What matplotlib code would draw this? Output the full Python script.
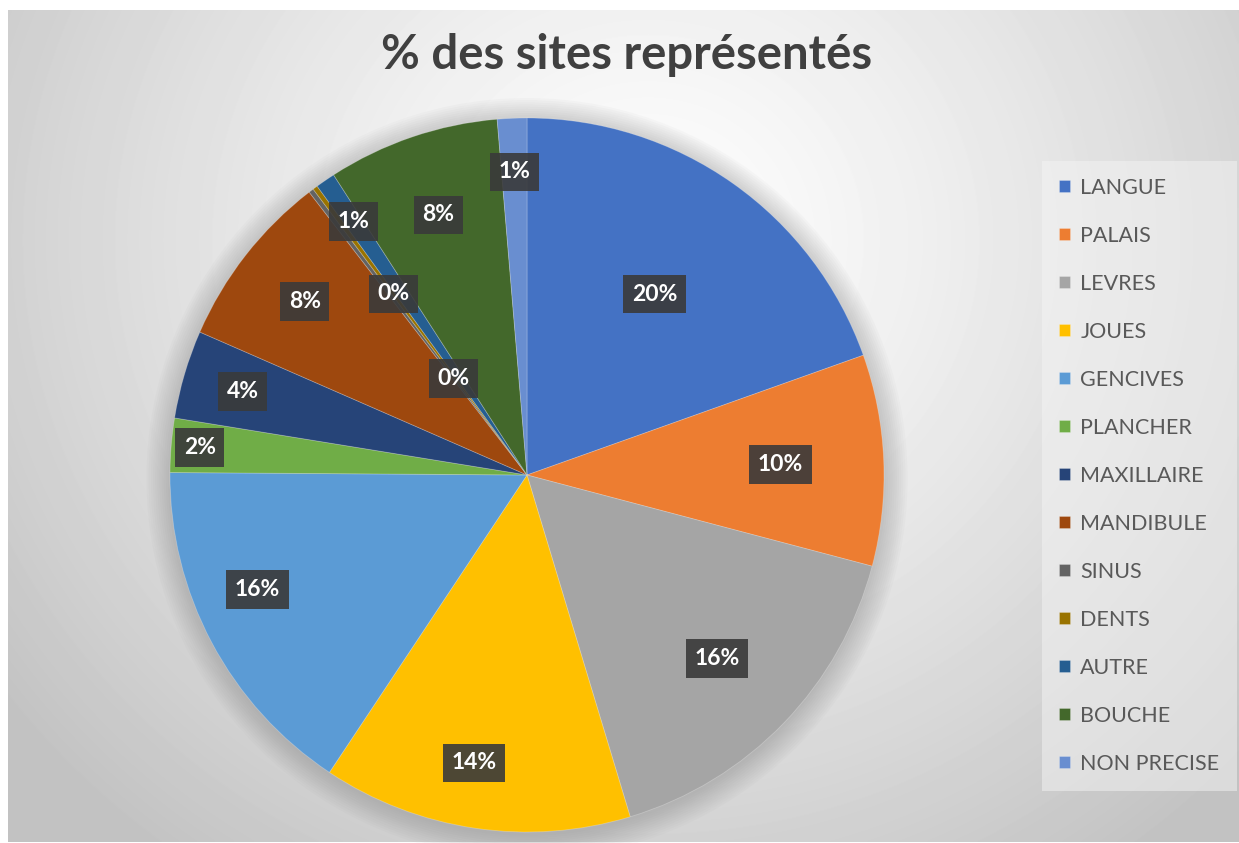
import numpy as np
import matplotlib
matplotlib.use('Agg')
import matplotlib.pyplot as plt
from matplotlib.patches import Circle

plt.rcParams['font.family'] = ['Lato', 'DejaVu Sans']

# Données (effectifs)
sites = ['LANGUE', 'PALAIS', 'LEVRES', 'JOUES', 'GENCIVES', 'PLANCHER', 'MAXILLAIRE',
         'MANDIBULE', 'SINUS', 'DENTS', 'AUTRE', 'BOUCHE', 'NON PRECISE']
effectifs = [88, 43, 73, 63, 71, 11, 18, 36, 1, 1, 4, 35, 6]
couleurs = ['#4472C4', '#ED7D31', '#A5A5A5', '#FFC000', '#5B9BD5', '#70AD47', '#264478',
            '#9E480E', '#636363', '#997300', '#255E91', '#43682B', '#698ED0']
# placement des étiquettes "au mieux" d'Excel : distance (fraction du rayon) et décalage d'angle
dist_etiq = [0.62, 0.71, 0.74, 0.82, 0.82, 0.92, 0.83, 0.79, 0.34, 0.63, 0.86, 0.77, 0.85]
decal_etiq = [0, 0, 0, -2, -5, 0, 0, 0, 0, 0, 0, 0, 0]

W, H = 1239, 843
fig = plt.figure(figsize=(W / 100, H / 100), dpi=100)
fig.patch.set_facecolor('white')

# Fond dégradé de la zone de graphique
bg = fig.add_axes([8 / W, 1 / H, 1231 / W, 832 / H])
xx, yy = np.meshgrid(np.arange(1231), np.arange(832))
d = np.sqrt(((xx - 640) / 800.0) ** 2 + ((yy - 230) / 760.0) ** 2)
v = 0.995 - 0.23 * np.clip(d, 0, 1) ** 1.3
bg.imshow(v, cmap='gray', vmin=0, vmax=1, aspect='auto', interpolation='bilinear')
bg.axis('off')

# Camembert
cx, cy, r = 527, 475, 357
ax = fig.add_axes([(cx - r) / W, (H - cy - r) / H, 2 * r / W, 2 * r / H])
for k in range(12):  # ombre douce
    ax.add_patch(Circle((0, -0.01), 1.0 + 0.006 * k, color='#7f7f7f', alpha=0.035,
                        lw=0, zorder=0, clip_on=False))
wedges, _ = ax.pie(effectifs, colors=couleurs, startangle=90, counterclock=False,
                   radius=1, wedgeprops=dict(linewidth=0.6, edgecolor='#ffffff40'))
for w in wedges:
    w.set_zorder(2)
total = sum(effectifs)
for w, n, dd, da in zip(wedges, effectifs, dist_etiq, decal_etiq):
    a = np.deg2rad((w.theta1 + w.theta2) / 2 + da)
    ax.text(dd * np.cos(a), dd * np.sin(a), '%d%%' % round(100 * n / total),
            ha='center', va='center', color='white', fontsize=16.5, fontweight='bold',
            zorder=5, bbox=dict(boxstyle='square,pad=0.38', fc='#3a3a3a', ec='none', alpha=0.9))
ax.set_xlim(-1, 1)
ax.set_ylim(-1, 1)
ax.set_aspect('equal')
ax.axis('off')

# Titre
fig.text(627 / W, 1 - 55 / H, '% des sites représentés', ha='center', va='center',
         fontsize=34, fontweight='bold', color='#404040')

# Légende
leg = fig.legend(wedges, sites, loc='upper left', bbox_to_anchor=(1048 / W, 1 - 167 / H),
                 frameon=True, fontsize=15.5, labelcolor='#595959', handlelength=0.5,
                 handleheight=0.5, handletextpad=0.5, labelspacing=1.30, borderpad=0.5,
                 borderaxespad=0)
leg.get_frame().set_facecolor('#f4f4f4')
leg.get_frame().set_alpha(0.5)
leg.get_frame().set_edgecolor('none')
leg.get_frame().set_boxstyle('square')

fig.savefig('out.png', dpi=100)
